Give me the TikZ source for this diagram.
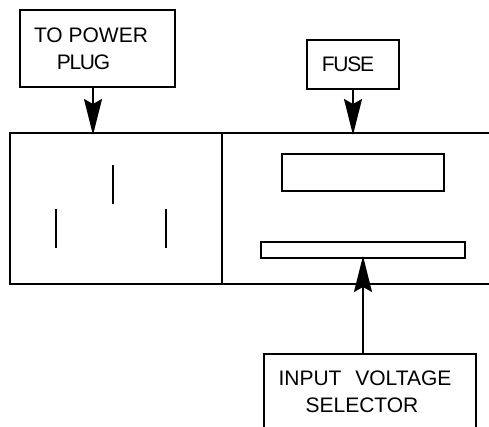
\documentclass[tikz,border=0pt]{standalone}
\usepackage{fontspec}
\setmainfont{Liberation Sans}
\usetikzlibrary{arrows.meta, positioning, calc}
\newcommand{\tightlabel}[1]{{\addfontfeature{LetterSpace=-6}#1}}

\begin{document}
\begin{tikzpicture}[x=1pt, y=-1pt, line width=1.8pt,
		every node/.style={draw, rectangle, outer sep=0pt, inner sep=0pt, align=center, font=\fontsize{21}{27}\selectfont},
		feed/.style={-{Stealth[length=36pt, width=18pt, inset=5pt]}, line width=2pt, shorten >=-2pt}]
			\clip (0,0) rectangle (489,427);
			\node[minimum width=212pt, minimum height=151pt] (plugpanel) at (116,208.5) {};
			\node[minimum width=300pt, minimum height=151pt, right=0pt of plugpanel] (fusepanel) {};
			\node[minimum width=155pt, minimum height=77pt] (plugbox) at (97.5,48.5) {TO POWER\hspace*{13pt}\\\tightlabel{PLUG}\hspace*{28pt}};
			\node[minimum width=92pt, minimum height=49pt] (fusebox) at (353,64.5) {\tightlabel{FUSE}\hspace*{10pt}};
			\node[minimum width=162pt, minimum height=37pt] (window) at (363,172.5) {};
			\node[minimum width=204pt, minimum height=16pt] (slot) at (363,250) {};
			\node[minimum width=212pt, minimum height=76pt] (selectorbox) at (370,392) {INPUT\hspace{8pt} VOLTAGE\hspace*{10pt}\\SELECTOR\hspace*{16pt}};
			\foreach \x/\ya/\yb in {113/165/204, 56/209/248, 166/209/248}
				\draw (\x,\ya) -- (\x,\yb);
			\draw[feed] (plugbox.south -| 93,0) -- (plugpanel.north -| 93,0);
			\draw[feed] (fusebox.south) -- (fusebox.south |- fusepanel.north);
			\draw[feed] (selectorbox.north -| slot.south) -- (slot.south);
		\end{tikzpicture}
\end{document}
